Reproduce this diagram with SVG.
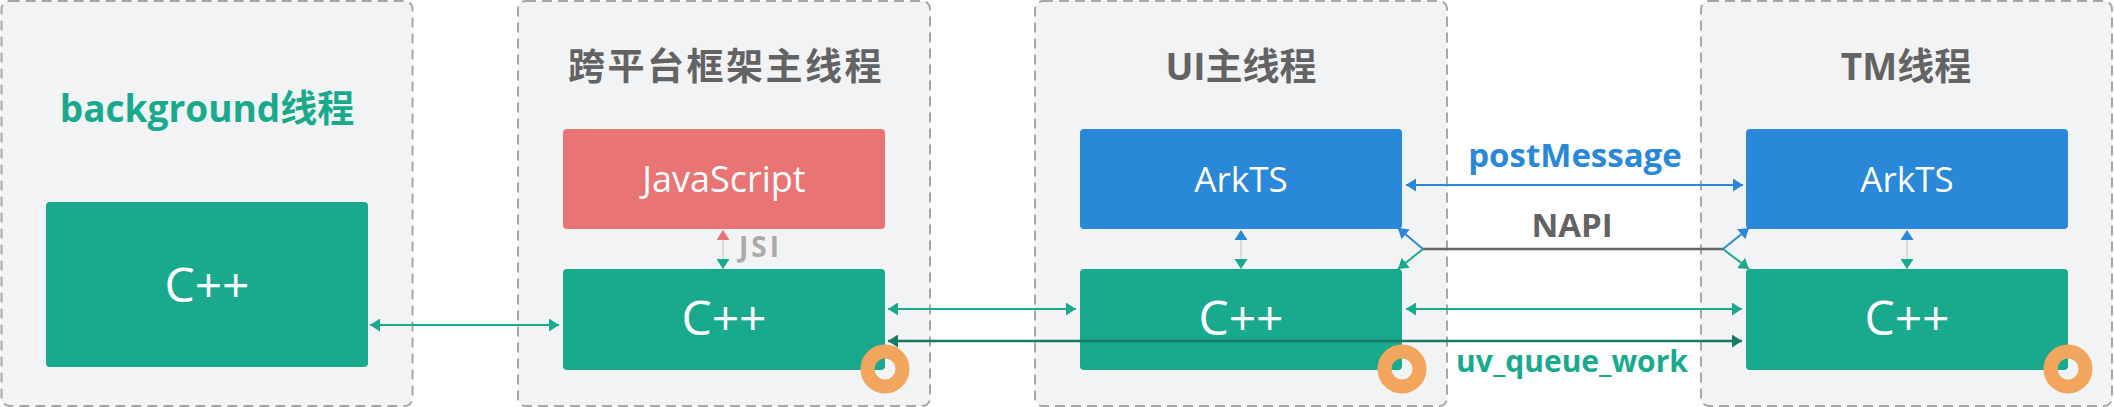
<svg xmlns="http://www.w3.org/2000/svg" width="2114" height="407" viewBox="0 0 2114 407">
<style>
.lane{fill:#F2F3F5;stroke:#A6A6A6;stroke-width:2;stroke-dasharray:10 6}
.title{font-family:"Open Sans","Noto Sans CJK SC",sans-serif;font-weight:bold;font-size:37px;fill:#636363;text-anchor:middle}
.box-g{fill:#19AA8D}
.box-b{fill:#2A88D8}
.box-r{fill:#E97474}
.lbl{font-family:"Open Sans","Noto Sans CJK SC",sans-serif;fill:#FFFFFF;text-anchor:middle}
.ring{fill:none;stroke:#F2A55C;stroke-width:14}
.edge-lbl{font-family:"Open Sans","Noto Sans CJK SC",sans-serif;font-weight:bold;text-anchor:middle}
</style>
<defs>
<marker id="ag" viewBox="0 0 10 13" refX="10" refY="6.5" markerWidth="10" markerHeight="13" markerUnits="userSpaceOnUse" orient="auto-start-reverse"><path d="M0,0 L10,6.5 L0,13 z" fill="#19AA8D"/></marker>
<marker id="ad" viewBox="0 0 10 13" refX="10" refY="6.5" markerWidth="10" markerHeight="13" markerUnits="userSpaceOnUse" orient="auto-start-reverse"><path d="M0,0 L10,6.5 L0,13 z" fill="#177A66"/></marker>
<marker id="ab" viewBox="0 0 10 13" refX="10" refY="6.5" markerWidth="10" markerHeight="13" markerUnits="userSpaceOnUse" orient="auto-start-reverse"><path d="M0,0 L10,6.5 L0,13 z" fill="#2A88D8"/></marker>
<marker id="ar" viewBox="0 0 10 13" refX="10" refY="6.5" markerWidth="10" markerHeight="13" markerUnits="userSpaceOnUse" orient="auto-start-reverse"><path d="M0,0 L10,6.5 L0,13 z" fill="#E97474"/></marker>
</defs>

<g id="lane-background">
<rect class="lane" x="1.5" y="1" width="411" height="405" rx="8"/>
<text class="title" x="207" y="122" style="fill:#19AA8D">background线程</text>
</g>
<g id="lane-cross">
<rect class="lane" x="518" y="1" width="412" height="405" rx="8"/>
<text class="title" x="726" y="80" letter-spacing="2.5">跨平台框架主线程</text>
</g>
<g id="lane-ui">
<rect class="lane" x="1035" y="1" width="412" height="405" rx="8"/>
<text class="title" x="1241" y="80">UI主线程</text>
</g>
<g id="lane-tm">
<rect class="lane" x="1701" y="1" width="411" height="405" rx="8"/>
<text class="title" x="1906" y="80">TM线程</text>
</g>

<g id="bg-cpp">
<rect class="box-g" x="46" y="202" width="322" height="165" rx="4"/>
<text class="lbl" x="207" y="302" font-size="48">C++</text>
</g>
<g id="cross-js">
<rect class="box-r" x="563" y="129" width="322" height="100" rx="4"/>
<text class="lbl" x="724" y="192" font-size="36">JavaScript</text>
</g>
<g id="cross-cpp">
<rect class="box-g" x="563" y="269" width="322" height="101" rx="4"/>
<text class="lbl" x="724" y="335" font-size="48">C++</text>
</g>
<g id="ui-arkts">
<rect class="box-b" x="1080" y="129" width="322" height="100" rx="4"/>
<text class="lbl" x="1241" y="192" font-size="35">ArkTS</text>
</g>
<g id="ui-cpp">
<rect class="box-g" x="1080" y="269" width="322" height="101" rx="4"/>
<text class="lbl" x="1241" y="335" font-size="48">C++</text>
</g>
<g id="tm-arkts">
<rect class="box-b" x="1746" y="129" width="322" height="100" rx="4"/>
<text class="lbl" x="1907" y="192" font-size="35">ArkTS</text>
</g>
<g id="tm-cpp">
<rect class="box-g" x="1746" y="269" width="322" height="101" rx="4"/>
<text class="lbl" x="1907" y="335" font-size="48">C++</text>
</g>

<g id="connectors" fill="none" stroke-width="2">
<line x1="370" y1="325" x2="559" y2="325" stroke="#19AA8D" marker-start="url(#ag)" marker-end="url(#ag)"/>
<line x1="888" y1="309" x2="1076" y2="309" stroke="#19AA8D" marker-start="url(#ag)" marker-end="url(#ag)"/>
<line x1="1406" y1="309" x2="1742" y2="309" stroke="#19AA8D" marker-start="url(#ag)" marker-end="url(#ag)"/>
<line x1="888" y1="341" x2="1742" y2="341" stroke="#177A66" stroke-width="2.5" marker-start="url(#ad)" marker-end="url(#ad)"/>
<line x1="1406" y1="185" x2="1743" y2="185" stroke="#2A88D8" marker-start="url(#ab)" marker-end="url(#ab)"/>
<line x1="1423" y1="249" x2="1723" y2="249" stroke="#666666" stroke-width="2.5"/>
<line x1="1423" y1="249" x2="1398" y2="228" stroke="#2A88D8" marker-end="url(#ab)"/>
<line x1="1423" y1="249" x2="1398" y2="269" stroke="#19AA8D" marker-end="url(#ag)"/>
<line x1="1723" y1="249" x2="1749" y2="228" stroke="#2A88D8" marker-end="url(#ab)"/>
<line x1="1723" y1="249" x2="1749" y2="269" stroke="#19AA8D" marker-end="url(#ag)"/>
<line x1="723" y1="230" x2="723" y2="269" stroke="#DCDCDC" marker-start="url(#ar)" marker-end="url(#ag)"/>
<line x1="1241" y1="230" x2="1241" y2="269" stroke="#DCDCDC" marker-start="url(#ab)" marker-end="url(#ag)"/>
<line x1="1907" y1="230" x2="1907" y2="269" stroke="#DCDCDC" marker-start="url(#ab)" marker-end="url(#ag)"/>
<text class="edge-lbl" x="739" y="257" font-size="28" letter-spacing="3" fill="#AAAAAA" style="text-anchor:start">JSI</text>
<text class="edge-lbl" x="1575" y="167" font-size="33" fill="#2A88D8">postMessage</text>
<text class="edge-lbl" x="1572" y="237" font-size="33" fill="#636363">NAPI</text>
<text class="edge-lbl" x="1572" y="372" font-size="30" fill="#19AA8D">uv_queue_work</text>
</g>

<g id="rings">
<circle class="ring" cx="885" cy="369" r="17.5"/>
<circle class="ring" cx="1402" cy="369" r="17.5"/>
<circle class="ring" cx="2068" cy="369" r="17.5"/>
</g>
</svg>
